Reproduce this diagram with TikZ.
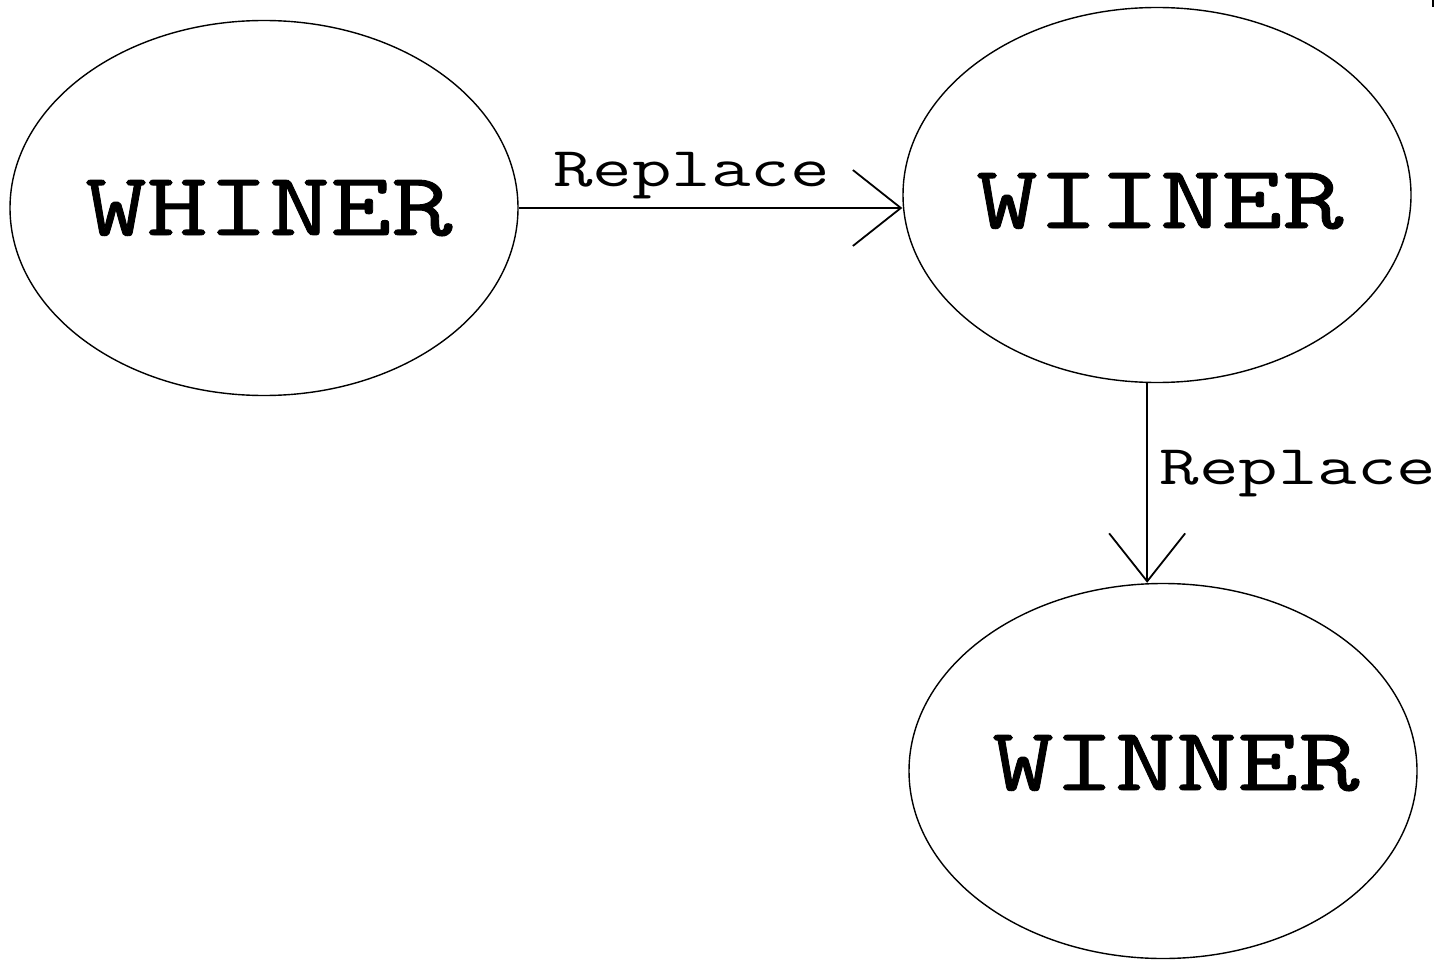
\documentclass[tikz,border=0pt]{standalone}
\usepackage{fontspec}
\usetikzlibrary{shapes.geometric,arrows.meta}
\newfontfamily\titlefont{Latin Modern Mono}[FakeStretch=1.32,FakeBold=1]
\newfontfamily\labelfont{Latin Modern Mono}[FakeStretch=1.37]
\begin{document}
\begin{tikzpicture}[x=1pt,y=-1pt,
  state/.style={draw,ellipse,line width=1.4pt,minimum width=508pt,minimum height=375pt,inner sep=0pt},
  title/.style={anchor=base,inner sep=0pt,font=\titlefont\fontsize{90}{90}\selectfont},
  lbl/.style={anchor=base,inner sep=0pt,font=\labelfont\fontsize{56}{56}\selectfont},
  arr/.style={line width=1.8pt,-{Straight Barb[length=48pt,width=76pt,line width=1.8pt]}}]
\useasboundingbox[fill=white] (0,0) rectangle (1447,960);
\node[state] (whiner) at (264,208) {};
\node[state] (wiiner) at (1157,195) {};
\node[state] (winner) at (1163,771) {};
\node[title] (t1) at (269,235) {WHINER};
\node[title] (t2) at (1160,228) {WIINER};
\node[title] (t3) at (1176,790) {WINNER};
\draw[arr] (whiner.east) -- (whiner.east -| wiiner.west) node[lbl,pos=0.45,yshift=22pt] (r1) {Replace};
\draw[arr] (wiiner.267) -- (wiiner.267 |- winner.north) coordinate (e2);
\node[lbl] (r2) at (1298,484) {Replace};
\draw[line width=2pt] (1433,0) -- (1433,7);
\end{tikzpicture}
\end{document}
